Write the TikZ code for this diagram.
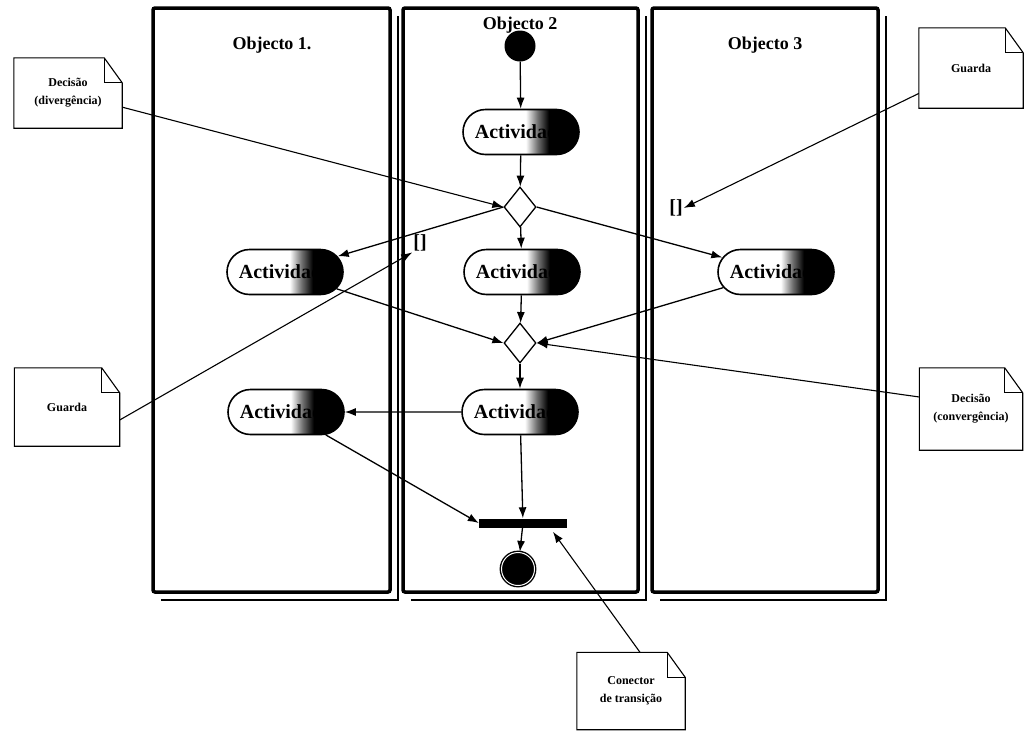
\documentclass[tikz,border=0pt]{standalone}
\usepackage{fontspec}
\setmainfont{Liberation Serif}
\usetikzlibrary{arrows.meta,shapes.geometric,shapes.misc}

% white on the left, dark on the right (path spans 25bp..75bp)
\pgfdeclarehorizontalshading{actshade}{100bp}{color(0bp)=(white); color(52bp)=(white); color(57bp)=(black!55); color(62bp)=(black); color(100bp)=(black)}

% note with a folded corner: name, x, y, width, height, text
\newcommand\mknote[6]{%
  \node[notetext, minimum width=#4pt, minimum height=#5pt] (#1) at (#2,#3) {#6};
  \draw[noteframe] (#1.north west) -- ([xshift=-18pt]#1.north east)
    -- ([yshift=-25pt]#1.north east) -- (#1.south east) -- (#1.south west) -- cycle;
  \draw[noteframe] ([xshift=-18pt]#1.north east) -- ([xshift=-18pt,yshift=-25pt]#1.north east)
    -- ([yshift=-25pt]#1.north east);
}

\begin{document}
\begin{tikzpicture}[x=1pt,y=-1pt,
  lane/.style={draw, line width=3.5pt, rounded corners=2pt},
  laneshadow/.style={line width=1.2pt},
  lanetitle/.style={font=\bfseries\fontsize{18}{20}\selectfont},
  act/.style={rounded rectangle, draw, line width=1.6pt, minimum width=118pt,
    minimum height=45pt, inner sep=1pt, shading=actshade,
    font=\bfseries\fontsize{20}{22}\selectfont},
  dec/.style={diamond, draw, line width=1.3pt, minimum width=32pt,
    minimum height=40pt, inner sep=0pt, fill=white},
  startnode/.style={circle, fill=black, minimum size=31pt, inner sep=0pt},
  endnode/.style={circle, fill=black, draw=black, line width=1.4pt,
    double=white, double distance=1pt, minimum size=33pt, inner sep=0pt},
  bar/.style={rectangle, fill=black, minimum width=88pt, minimum height=9pt, inner sep=0pt},
  guard/.style={font=\bfseries\fontsize{20}{22}\selectfont, inner sep=1pt},
  notetext/.style={align=center, inner sep=0pt, font=\bfseries\fontsize{12}{18}\selectfont},
  noteframe/.style={line width=1.1pt, line join=miter},
  arr/.style={line width=1.3pt, -{Latex[length=11pt,width=8pt]}},
  link/.style={line width=1.1pt, -{Latex[length=11pt,width=8pt]}},
]
% canvas
\fill[white] (0,0) rectangle (1025,734);
\useasboundingbox (0,0) rectangle (1025,734);

% swimlanes with their shadows
\draw[laneshadow] (161,600) -- (398,600) -- (398,16);
\draw[laneshadow] (411,600) -- (646,600) -- (646,16);
\draw[laneshadow] (660,600) -- (886,600) -- (886,16);
\draw[lane] (153,8) rectangle (390,592);
\draw[lane] (403,8) rectangle (638,592);
\draw[lane] (652,8) rectangle (878,592);

\node[lanetitle] (t1) at (272,45) {Objecto 1.};
\node[lanetitle] (t2) at (520,25) {Objecto 2};
\node[lanetitle] (t3) at (765,45) {Objecto 3};

% activity flow
\node[startnode] (s) at (520,46) {};
\node[act] (a1) at (521,132) {Actividade};
\node[dec] (d1) at (520,207) {};
\node[act] (a21) at (285,272) {Actividade};
\node[act] (a22) at (522,272) {Actividade};
\node[act] (a23) at (776,272) {Actividade};
\node[dec] (d2) at (520,343) {};
\node[act] (a31) at (286,412) {Actividade};
\node[act] (a32) at (520,412) {Actividade};
\node[bar] (b) at (523,523) {};
\node[endnode] (f) at (518,569) {};

\draw[arr] (s) -- (a1);
\draw[arr] (a1) -- (d1);
\draw[arr] (d1.west) -- (a21);
\draw[arr] (d1) -- (a22);
\draw[arr] (d1.east) -- (a23);
\draw[arr] (a21) -- (d2.west);
\draw[arr] (a22) -- (d2);
\draw[arr] (a23) -- (d2.east);
\draw[arr] (d2) -- (a32);
\draw[arr] (a32) -- (a31);
\draw[arr] (a31) -- (b.west);
\draw[arr] (a32) -- (b);
\draw[arr] (b) -- (f);

% guard marks
\node[guard] (g1) at (420,243) {[]};
\node[guard] (g2) at (676,208) {[]};

% annotations
\mknote{n1}{68}{93}{108}{70}{Decisão\\(divergência)}
\mknote{n2}{971}{68}{104}{80}{Guarda}
\mknote{n3}{67}{407}{105}{78}{Guarda}
\mknote{n4}{971}{409}{103}{82}{Decisão\\(convergência)}
\mknote{n5}{631}{691}{108}{77}{Conector\\de transição}

\draw[link] (n1) -- (d1.west);
\draw[link] (n2) -- (g2.east);
\draw[link] ([yshift=-13pt]n3.east) -- (g1.south west);
\draw[link] ([yshift=12pt]n4.west) -- (d2.east);
\draw[link, shorten >=5pt] ([xshift=9pt]n5.north) -- ([xshift=27pt]b.south);
\end{tikzpicture}
\end{document}
